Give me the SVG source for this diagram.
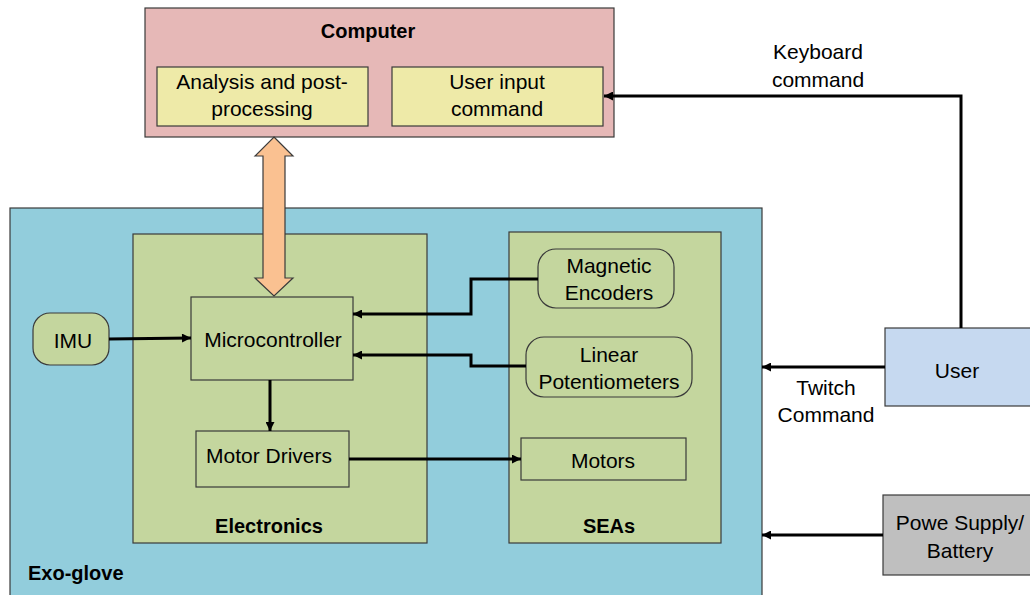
<svg xmlns="http://www.w3.org/2000/svg" width="1030" height="595" viewBox="0 0 1030 595">
<defs>
<marker id="ah" viewBox="0 0 10 10" refX="10" refY="5" markerWidth="11" markerHeight="9" markerUnits="userSpaceOnUse" orient="auto"><path d="M0,0 L10,5 L0,10 z" fill="#000"/></marker>
</defs>
<style>
.box{stroke:#3a3a3a;stroke-width:1.2}
.t{font-family:"Liberation Sans",Arial,sans-serif;font-size:21px;fill:#000;text-anchor:middle}
.b{font-family:"Liberation Sans",Arial,sans-serif;font-size:20px;font-weight:bold;fill:#000;text-anchor:middle}
.c{fill:none;stroke:#000;stroke-width:3;marker-end:url(#ah)}
</style>
<rect width="1030" height="595" fill="#fff"/>
<g id="computer">
<rect class="box" x="145" y="8" width="469" height="129" fill="#e6b8b7"/>
<text class="b" x="368" y="38">Computer</text>
</g>
<g id="analysis">
<rect class="box" x="157" y="67" width="211" height="59" fill="#eeeaa8"/>
<text class="t" x="262" y="89">Analysis and post-</text>
<text class="t" x="262" y="116">processing</text>
</g>
<g id="userinput">
<rect class="box" x="392" y="67" width="211" height="59" fill="#eeeaa8"/>
<text class="t" x="497" y="89">User input</text>
<text class="t" x="497" y="116">command</text>
</g>
<g id="exoglove">
<rect class="box" x="10" y="208" width="752" height="400" fill="#92cddc"/>
<text class="b" x="28" y="580" style="text-anchor:start">Exo-glove</text>
</g>
<g id="electronics">
<rect class="box" x="133" y="234" width="294" height="309" fill="#c4d69e"/>
<text class="b" x="269" y="533">Electronics</text>
</g>
<g id="seas">
<rect class="box" x="509" y="232" width="212" height="311" fill="#c4d69e"/>
<text class="b" x="609" y="533">SEAs</text>
</g>
<g id="imu">
<rect class="box" x="33" y="313" width="76" height="52" rx="17" fill="#c4d69e"/>
<text class="t" x="73" y="348">IMU</text>
</g>
<g id="microcontroller">
<rect class="box" x="191" y="297" width="162" height="83" fill="#c4d69e"/>
<text class="t" x="273" y="347">Microcontroller</text>
</g>
<g id="motordrivers">
<rect class="box" x="196" y="431" width="153" height="56" fill="#c4d69e"/>
<text class="t" x="269" y="463">Motor Drivers</text>
</g>
<g id="encoders">
<rect class="box" x="538" y="249" width="136" height="59" rx="18" fill="#c4d69e"/>
<text class="t" x="609" y="273">Magnetic</text>
<text class="t" x="609" y="300">Encoders</text>
</g>
<g id="potentiometers">
<rect class="box" x="526" y="337" width="166" height="60" rx="18" fill="#c4d69e"/>
<text class="t" x="609" y="362">Linear</text>
<text class="t" x="609" y="389">Potentiometers</text>
</g>
<g id="motors">
<rect class="box" x="521" y="438" width="165" height="42" fill="#c4d69e"/>
<text class="t" x="603" y="468">Motors</text>
</g>
<g id="user">
<rect class="box" x="885" y="328" width="150" height="78" fill="#c6d9f0"/>
<text class="t" x="957" y="378">User</text>
</g>
<g id="power">
<rect class="box" x="883" y="495" width="152" height="80" fill="#bfbfbf"/>
<text class="t" x="960" y="530">Powe Supply/</text>
<text class="t" x="960" y="558">Battery</text>
</g>
<g id="connectors">
<path d="M274,137 L293,156 L285,156 L285,278 L293,278 L274,296 L255,278 L263,278 L263,156 L255,156 Z" fill="#fac191" stroke="#3a3a3a" stroke-width="1.2"/>
<path class="c" d="M109,339 L191,338"/>
<path class="c" d="M270,380 L270,431"/>
<path class="c" d="M349,459 L521,459"/>
<path class="c" d="M538,279 L471,279 L471,314 L353,314"/>
<path class="c" d="M526,366 L471,366 L471,355 L353,355"/>
<path class="c" d="M961,328 L961,96 L604,96"/>
<path class="c" d="M885,367 L762,367"/>
<path class="c" d="M883,535 L762,535"/>
<text class="t" x="818" y="59">Keyboard</text>
<text class="t" x="818" y="87">command</text>
<text class="t" x="826" y="395">Twitch</text>
<text class="t" x="826" y="422">Command</text>
</g>
</svg>
